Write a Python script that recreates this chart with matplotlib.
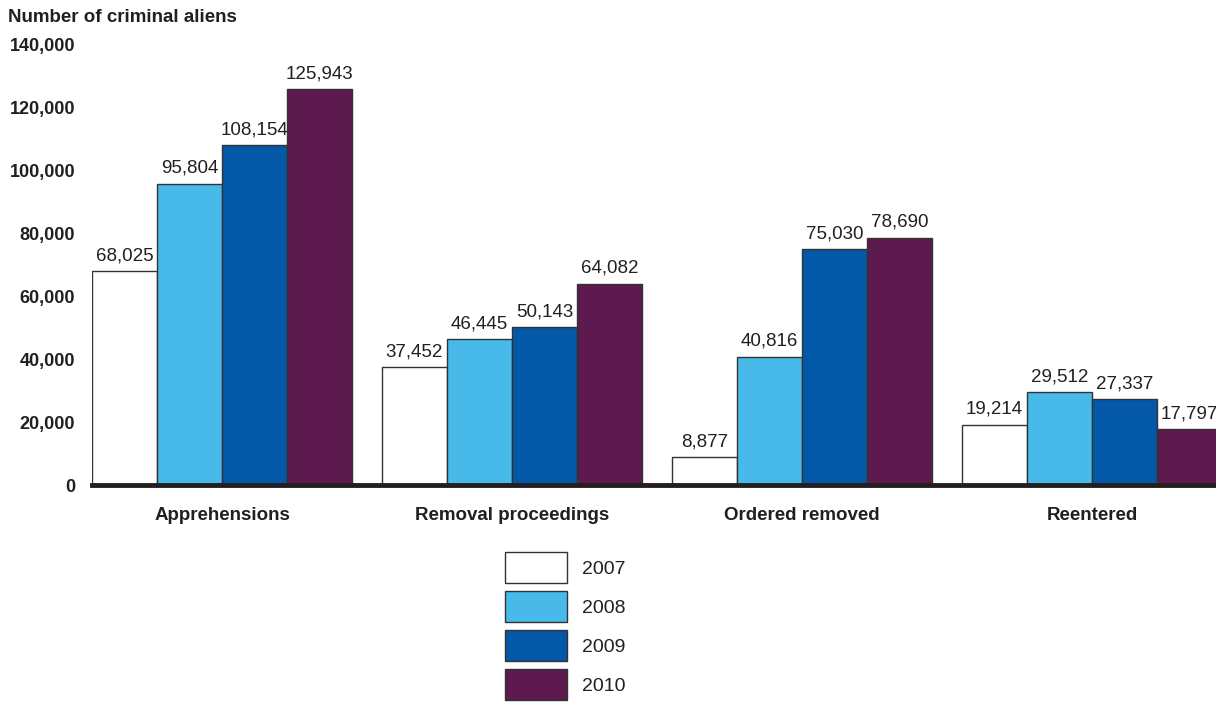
import matplotlib.pyplot as plt
import numpy as np
from matplotlib.patches import Patch

# data
categories = ['Apprehensions', 'Removal proceedings', 'Ordered removed', 'Reentered']
years = ['2007', '2008', '2009', '2010']
v2007 = [68025, 37452, 8877, 19214]
v2008 = [95804, 46445, 40816, 29512]
v2009 = [108154, 50143, 75030, 27337]
v2010 = [125943, 64082, 78690, 17797]
yticks = [0, 20000, 40000, 60000, 80000, 100000, 120000, 140000]

series = [v2007, v2008, v2009, v2010]
colors = ['#FFFFFF', '#47BAEA', '#0358A8', '#5C1A4E']

plt.rcParams['font.family'] = ['Liberation Sans', 'DejaVu Sans']
fs = 13.5

fig = plt.figure(figsize=(12.16, 7.02), dpi=100)
ax = fig.add_axes([92/1216, 217/702, 1 - 92/1216, (657 - 217)/702])

w = 65/290
x = np.arange(len(categories))
for j, vals in enumerate(series):
    bars = ax.bar(x + j*w, vals, width=w, align='edge', color=colors[j],
                  edgecolor='#333333', linewidth=1.0, zorder=2)
    for b, v in zip(bars, vals):
        ax.annotate(f'{v:,}', (b.get_x() + b.get_width()/2, v),
                    xytext=(0, 5), textcoords='offset points',
                    ha='center', va='bottom', fontsize=fs, color='#231F20',
                    annotation_clip=False)

ax.set_xlim(0, (1216 - 92)/290)
ax.set_ylim(0, 140000)
ax.set_yticks(yticks)
ax.set_yticklabels([f'{t:,}' for t in yticks], fontweight='bold', fontsize=13, color='#231F20')
ax.set_xticks(x + 2*w)
ax.set_xticklabels(categories, fontweight='bold', fontsize=fs, color='#231F20')
ax.tick_params(axis='y', length=0, pad=12)
ax.tick_params(axis='x', length=0, pad=16)

for s in ['top', 'right', 'left']:
    ax.spines[s].set_visible(False)
ax.spines['bottom'].set_linewidth(3.5)
ax.spines['bottom'].set_color('#231F20')
ax.spines['bottom'].set_zorder(3)

fig.text(8/1216, 1 - 18/702, 'Number of criminal aliens', fontweight='bold',
         fontsize=fs, color='#231F20', va='center', ha='left')

handles = [Patch(facecolor=c, edgecolor='#333333', linewidth=1.0) for c in colors]
fig.legend(handles, years, loc='upper left', bbox_to_anchor=(505/1216, 1 - 552/702),
           frameon=False, fontsize=14, handlelength=3.2, handleheight=2.08,
           labelspacing=0.41, handletextpad=0.75, borderpad=0, borderaxespad=0,
           labelcolor='#231F20')

plt.savefig('out.png', dpi=100)
